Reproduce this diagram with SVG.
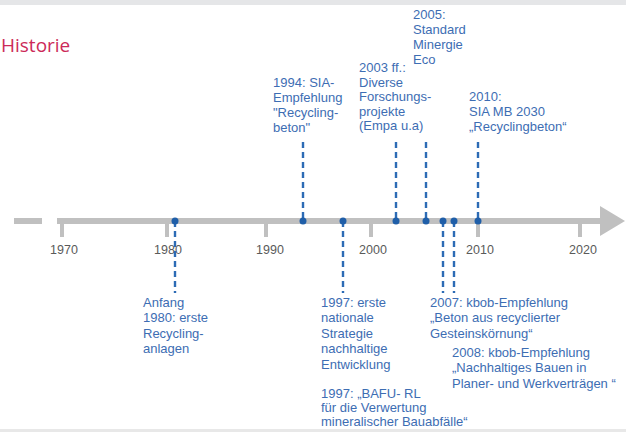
<svg xmlns="http://www.w3.org/2000/svg" width="626" height="432" viewBox="0 0 626 432">
  <style>
    .lbl { font-family: "Liberation Sans", Arial, sans-serif; font-size: 13px; fill: #3d6db3; }
    .yr { font-family: "Liberation Sans", Arial, sans-serif; font-size: 12.5px; fill: #5a5a5a; text-anchor: middle; }
    .axis { stroke: #c0c0c0; stroke-width: 6; fill: none; }
    .tick { stroke: #c0c0c0; stroke-width: 4; }
    .conn { stroke: #2c6bb5; stroke-width: 2.4; stroke-dasharray: 6 4; fill: none; }
    .dot { fill: #1f5ea8; }
    .title { font-family: "Open Sans", "Liberation Sans", sans-serif; font-size: 19px; fill: #cc2a58; }
  </style>
  <rect x="0" y="0" width="626" height="5" fill="#e5e6e8"/>
  <rect x="0" y="429" width="626" height="3" fill="#e8e8e8"/>
  <text class="title" x="1" y="52">Historie</text>

  <g id="axis">
    <line class="axis" x1="14" y1="221" x2="42" y2="221"/>
    <line class="axis" x1="57" y1="221" x2="602" y2="221"/>
    <polygon points="600,206 625,221 600,236" fill="#c0c0c0"/>
    <line class="tick" x1="62" y1="221" x2="62" y2="237"/>
    <line class="tick" x1="167" y1="221" x2="167" y2="237"/>
    <line class="tick" x1="266" y1="221" x2="266" y2="237"/>
    <line class="tick" x1="371" y1="221" x2="371" y2="237"/>
    <line class="tick" x1="478" y1="221" x2="478" y2="237"/>
    <line class="tick" x1="580" y1="221" x2="580" y2="237"/>
    <text class="yr" x="64" y="254">1970</text>
    <text class="yr" x="168" y="254">1980</text>
    <text class="yr" x="270" y="254">1990</text>
    <text class="yr" x="373" y="254">2000</text>
    <text class="yr" x="480" y="254">2010</text>
    <text class="yr" x="583" y="254">2020</text>
  </g>

  <g id="connectors">
    <line class="conn" x1="303" y1="142" x2="303" y2="221"/>
    <line class="conn" x1="396" y1="142" x2="396" y2="221"/>
    <line class="conn" x1="426" y1="142" x2="426" y2="221"/>
    <line class="conn" x1="478" y1="142" x2="478" y2="221"/>
    <line class="conn" x1="175" y1="221" x2="175" y2="293"/>
    <line class="conn" x1="343" y1="221" x2="343" y2="293"/>
    <line class="conn" x1="443" y1="221" x2="443" y2="293"/>
    <line class="conn" x1="454" y1="221" x2="454" y2="293"/>
    <circle class="dot" cx="175" cy="221" r="3.5"/>
    <circle class="dot" cx="303" cy="221" r="3.5"/>
    <circle class="dot" cx="343" cy="221" r="3.5"/>
    <circle class="dot" cx="396" cy="221" r="3.5"/>
    <circle class="dot" cx="426" cy="221" r="3.5"/>
    <circle class="dot" cx="443" cy="221" r="3.5"/>
    <circle class="dot" cx="454" cy="221" r="3.5"/>
    <circle class="dot" cx="478" cy="221" r="3.5"/>
  </g>

  <g id="n1980">
    <text class="lbl" x="143" y="307">Anfang</text>
    <text class="lbl" x="143" y="322">1980: erste</text>
    <text class="lbl" x="143" y="338">Recycling-</text>
    <text class="lbl" x="143" y="353">anlagen</text>
  </g>
  <g id="n1994">
    <text class="lbl" x="273" y="87">1994: SIA-</text>
    <text class="lbl" x="273" y="102">Empfehlung</text>
    <text class="lbl" x="273" y="117">"Recycling-</text>
    <text class="lbl" x="273" y="132">beton"</text>
  </g>
  <g id="n1997a">
    <text class="lbl" x="321" y="307">1997: erste</text>
    <text class="lbl" x="321" y="322">nationale</text>
    <text class="lbl" x="321" y="338">Strategie</text>
    <text class="lbl" x="321" y="353">nachhaltige</text>
    <text class="lbl" x="321" y="369">Entwicklung</text>
  </g>
  <g id="n1997b">
    <text class="lbl" x="321" y="398">1997: „BAFU- RL</text>
    <text class="lbl" x="321" y="412">für die Verwertung</text>
    <text class="lbl" x="321" y="426">mineralischer Bauabfälle“</text>
  </g>
  <g id="n2003">
    <text class="lbl" x="359" y="72">2003 ff.:</text>
    <text class="lbl" x="359" y="86.5">Diverse</text>
    <text class="lbl" x="359" y="101">Forschungs-</text>
    <text class="lbl" x="359" y="115.5">projekte</text>
    <text class="lbl" x="359" y="130">(Empa u.a)</text>
  </g>
  <g id="n2005">
    <text class="lbl" x="413" y="19">2005:</text>
    <text class="lbl" x="413" y="34">Standard</text>
    <text class="lbl" x="413" y="49">Minergie</text>
    <text class="lbl" x="413" y="64">Eco</text>
  </g>
  <g id="n2007">
    <text class="lbl" x="430" y="307">2007: kbob-Empfehlung</text>
    <text class="lbl" x="430" y="322">„Beton aus recyclierter</text>
    <text class="lbl" x="430" y="338">Gesteinskörnung“</text>
  </g>
  <g id="n2008">
    <text class="lbl" x="452" y="357">2008: kbob-Empfehlung</text>
    <text class="lbl" x="452" y="372">„Nachhaltiges Bauen in</text>
    <text class="lbl" x="452" y="388">Planer- und Werkverträgen “</text>
  </g>
  <g id="n2010">
    <text class="lbl" x="469" y="101">2010:</text>
    <text class="lbl" x="469" y="116">SIA MB 2030</text>
    <text class="lbl" x="469" y="131">„Recyclingbeton“</text>
  </g>
</svg>
